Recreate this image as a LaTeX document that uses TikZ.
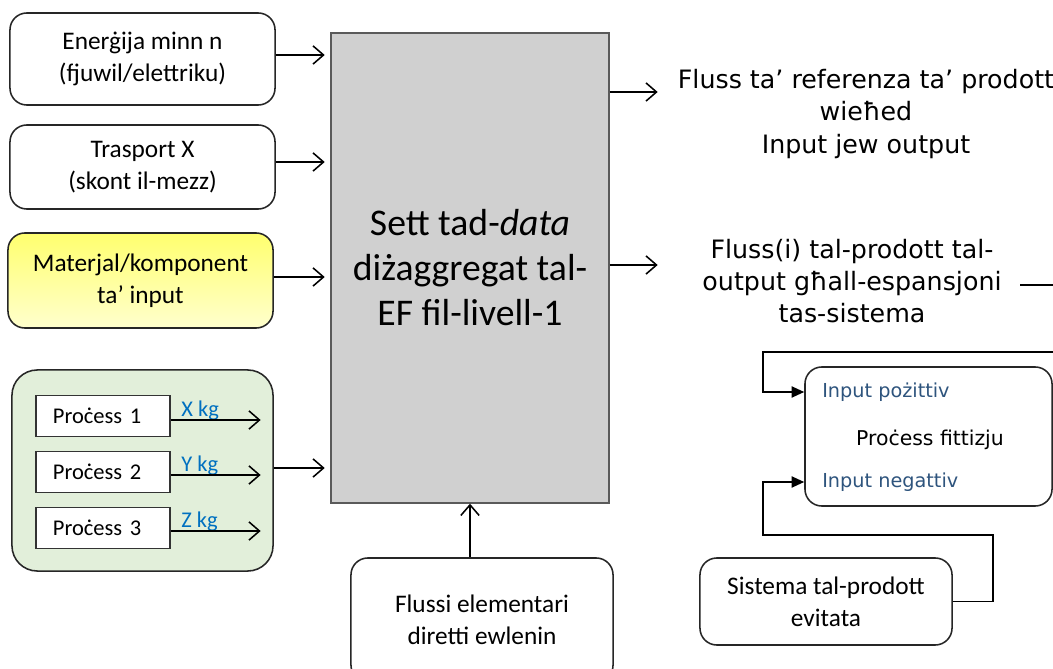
\documentclass[tikz,border=0pt]{standalone}
\usepackage{fontspec}
\setmainfont{Carlito}
\newfontfamily\verdana{DejaVu Sans}
\usetikzlibrary{arrows.meta,positioning}
\definecolor{boxgray}{RGB}{208,208,208}
\definecolor{edgegray}{RGB}{90,90,90}
\definecolor{grpgreen}{RGB}{226,239,218}
\definecolor{kgblue}{RGB}{0,112,192}
\definecolor{inblue}{RGB}{46,84,125}
\definecolor{yeltop}{RGB}{255,255,110}
\definecolor{yelbot}{RGB}{255,255,205}
\tikzset{
  inbox/.style={draw=black!85, line width=1.1pt, rounded corners=12pt, fill=white,
    align=center, inner sep=0pt, font=\fontsize{18}{23}\selectfont},
  procbox/.style={draw=black!80, line width=0.9pt, fill=white, inner xsep=0.425cm, inner ysep=0pt,
    text width=2.5cm, align=left, minimum height=1.025cm, font=\fontsize{16}{18}\selectfont},
  kglabel/.style={text=kgblue, inner sep=0pt, font=\fontsize{16}{18}\selectfont},
  flowtext/.style={align=center, inner sep=0pt, font=\verdana\fontsize{18}{23}\selectfont},
  inlabel/.style={text=inblue, inner sep=0pt, font=\verdana\fontsize{13.7}{16}\selectfont},
  barb/.style={-{Straight Barb[length=7.5pt,width=13pt,line width=1.1pt]}, line width=1.1pt},
  tri/.style={-{Triangle[length=9pt,width=8pt]}, line width=1.1pt}
}
\begin{document}
\begin{tikzpicture}[x=0.025cm,y=-0.025cm]
\useasboundingbox (0,0) rectangle (1053,669);
% inputs on the left
\node[inbox, minimum width=6.625cm, minimum height=2.3cm] (energy) at (142.5,59)
  {Enerġija minn n\\(fjuwil/elettriku)};
\node[inbox, minimum width=6.625cm, minimum height=2.1cm] (transport) at (142.5,167)
  {Trasport X\\(skont il-mezz)};
\node[inbox, top color=yeltop, bottom color=yelbot, minimum width=6.625cm, minimum height=2.375cm] (material) at (140.5,280.5)
  {Materjal/komponent\\ta’ input};
\node[inbox, fill=grpgreen, rounded corners=18pt, minimum width=6.525cm, minimum height=5.025cm] (group) at (142.5,470.5) {};
\node[procbox] (proc1) at (103,416) {Proċess 1};
\node[procbox] (proc2) at (103,472) {Proċess 2};
\node[procbox] (proc3) at (103,528) {Proċess 3};
\node[kglabel, anchor=base west] (kgx) at (181,416) {X kg};
\node[kglabel, anchor=base west] (kgy) at (181,471) {Y kg};
\node[kglabel, anchor=base west] (kgz) at (181,527) {Z kg};
% central data set
\node[draw=edgegray, line width=0.9pt, fill=boxgray, minimum width=6.95cm, minimum height=11.75cm,
  align=center, font=\fontsize{26.8}{32}\selectfont] (dataset) at (470,268)
  {Sett tad-\textit{data}\\diżaggregat tal-\\EF fil-livell-1};
\node[inbox, minimum width=6.55cm, minimum height=3.1cm] (elem) at (482,620)
  {Flussi elementari\\diretti ewlenin};
% outputs on the right
\node[flowtext] (refflow) at (866,114)
  {Fluss ta’ referenza ta’ prodott\\wieħed\\Input jew output};
\node[flowtext] (coprod) at (852,281)
  {Fluss(i) tal-prodott tal-\\output għall-espansjoni\\tas-sistema};
\node[inbox, minimum width=6.175cm, minimum height=3.475cm] (dummy) at (928.5,436.5) {};
\node[inlabel, anchor=west] (inpos) at (822,392) {Input pożittiv};
\node[flowtext, font=\verdana\fontsize{14.5}{17}\selectfont] (dummytxt) at (930,440) {Proċess fittizju};
\node[inlabel, anchor=west] (inneg) at (822,482) {Input negattiv};
\node[inbox, minimum width=6.3cm, minimum height=2.175cm] (avoided) at (826,601.5)
  {Sistema tal-prodott\\evitata};
\coordinate (cut1) at (1020,285);
\coordinate (edge1) at (1053,285);
\coordinate (edge2) at (1053,352);
% connectors
\draw[barb] (energy.east |- 0,55) -- ([xshift=-4pt]dataset.west |- 0,55);
\draw[barb] (transport.east |- 0,162) -- ([xshift=-4pt]dataset.west |- 0,162);
\draw[barb] (material.east |- 0,277) -- ([xshift=-4pt]dataset.west |- 0,277);
\draw[barb] (group.east |- 0,468) -- ([xshift=-4pt]dataset.west |- 0,468);
\draw[barb] (proc1.east |- 0,420) -- ++(90,0);
\draw[barb] (proc2.east |- 0,475) -- ++(90,0);
\draw[barb] (proc3.east |- 0,531) -- ++(90,0);
\draw[barb] (elem.north -| 470,0) -- (dataset.south -| 470,0);
\draw[barb] (dataset.east |- 0,92) -- ++(48,0);
\draw[barb] (dataset.east |- 0,265) -- ++(48,0);
\draw[line width=1.1pt] (cut1) -- (edge1);
\draw[tri] (edge2) -- (763,352) |- (dummy.west |- inpos);
\draw[tri] (avoided.east) -- ++(40,0) |- (763,535) |- (dummy.west |- inneg);
\end{tikzpicture}
\end{document}
